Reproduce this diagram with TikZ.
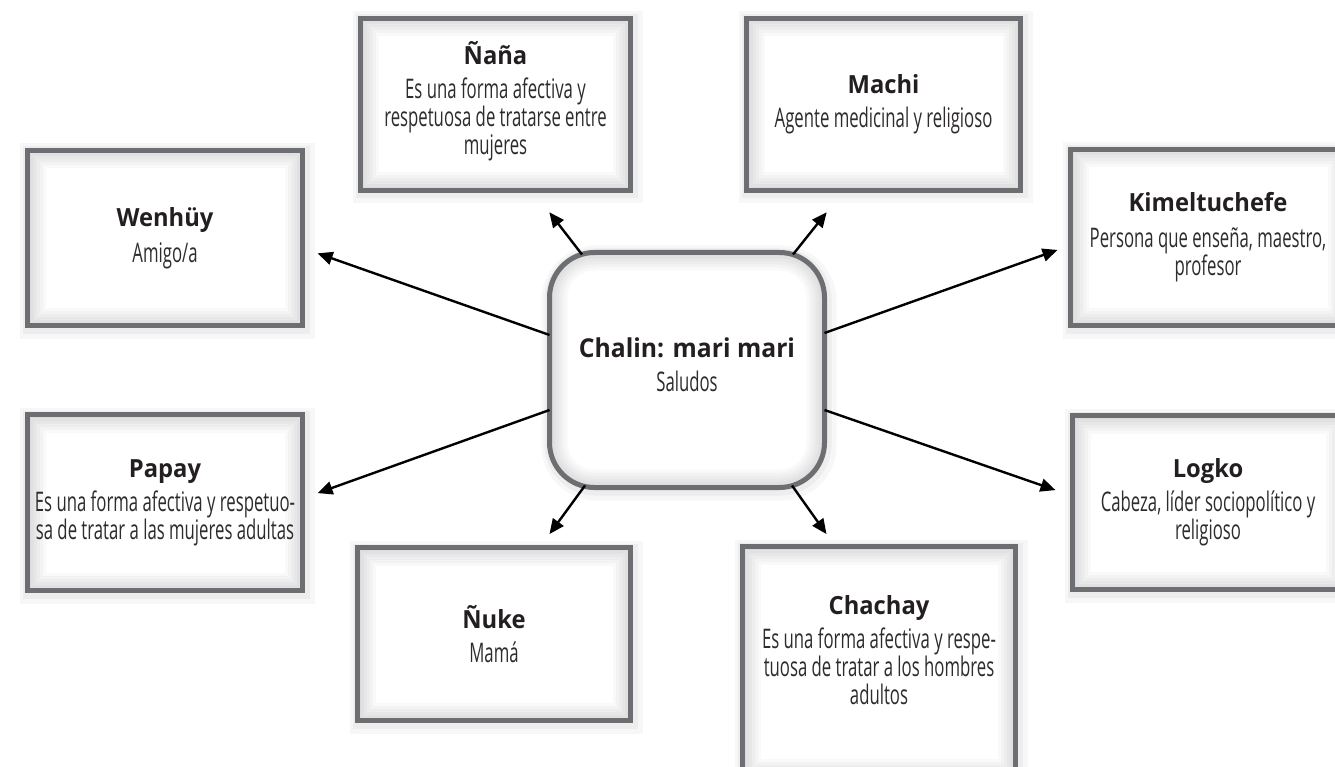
\documentclass[tikz,border=0pt]{standalone}
\usepackage{fontspec}
\setmainfont{Open Sans}
\newfontfamily\bodyf{Open Sans}[FakeStretch=0.62]
\newfontfamily\headf{Open Sans}[FakeStretch=0.95]
\usetikzlibrary{arrows.meta,calc}

\definecolor{rim}{HTML}{6D6E71}
\definecolor{ink}{HTML}{231F20}
\definecolor{softink}{HTML}{2E2B2C}

\newcommand{\ttl}[1]{{\headf\bfseries\fontsize{25}{28}\selectfont\color{ink}#1}}
% trailing empty line used to lift a text block inside its box
\newcommand{\lift}[1]{\\[#1]\mbox{}}

\tikzset{
  glow/.style={
    path picture={
      \foreach \w in {36,30,24,18,12,6}
        \draw[black, draw opacity=0.022, line width=\w pt, rounded corners=#1]
          (path picture bounding box.south west) rectangle (path picture bounding box.north east);
    }},
  card/.style={
    draw=rim, line width=5pt, fill=white, inner sep=0pt, outer sep=0pt,
    align=center, text=softink,
    font=\bodyf\fontsize{27}{28}\selectfont,
    preaction={draw=black, draw opacity=0.03, line width=20pt, transform canvas={shift={(2pt,-3pt)}}},
    preaction={draw=black, draw opacity=0.04, line width=12pt, transform canvas={shift={(1pt,-2pt)}}},
    glow=0pt},
  hubcard/.style={card, rounded corners=45pt, glow=45pt},
  link/.style={-{Triangle[length=15pt,width=13pt]}, line width=2.4pt, black}
}

\begin{document}
\begin{tikzpicture}[x=1pt,y=-1pt]
\useasboundingbox (0,0) rectangle (1335,767);
\clip (0,0) rectangle (1335,767);

% central greeting box
\node[hubcard, minimum width=275pt, minimum height=235pt] (hub) at (687,370)
  {{\headf\bfseries\fontsize{26}{28}\selectfont\color{ink}Chalin: mari mari}\\[6pt]Saludos\lift{-18pt}};

% surrounding term boxes
\node[card, minimum width=275pt, minimum height=175pt] (wen) at (165,238)
  {\ttl{Wenhüy}\\[8pt]Amigo/a};
\node[card, minimum width=270pt, minimum height=172pt] (nana) at (495.5,104.5)
  {\ttl{Ñaña}\\[6pt]Es una forma afectiva y\\respetuosa de tratarse entre\\mujeres\lift{-14pt}};
\node[card, minimum width=274pt, minimum height=172pt] (machi) at (883.5,104.5)
  {\ttl{Machi}\\[6pt]Agente medicinal y religioso};
\node[card, minimum width=275pt, minimum height=176pt] (kim) at (1208,237.5)
  {\ttl{Kimeltuchefe}\\[8pt]Persona que enseña, maestro,\\profesor};
\node[card, minimum width=275pt, minimum height=176pt] (papay) at (165,502.5)
  {\ttl{Papay}\\[6pt]Es una forma afectiva y respetuo-\\sa de tratar a las mujeres adultas};
\node[card, minimum width=273pt, minimum height=173pt] (nuke) at (494,634)
  {\ttl{Ñuke}\\[6pt]Mamá};
\node[card, minimum width=273pt, minimum height=230pt] (chachay) at (879,661.5)
  {\ttl{Chachay}\\[6pt]Es una forma afectiva y respe-\\tuosa de tratar a los hombres\\adultos\lift{-5pt}};
\node[card, minimum width=271pt, minimum height=174pt] (logko) at (1208,502.5)
  {\ttl{Logko}\\[6pt]Cabeza, líder sociopolítico y\\religioso};

% connectors from the greeting to each term
\draw[link, shorten >=16pt]   ($(hub.west)+(0,-35)$)   -- ($(wen.east)+(0,10)$);
\draw[link, shorten >=16pt]   ($(hub.west)+(0,40)$)    -- ($(papay.east)+(0,-4)$);
\draw[link, shorten >=27.5pt] ($(hub.north)+(-105,2)$) -- ($(nana.south)+(37,0)$);
\draw[link, shorten >=27.8pt] ($(hub.north)+(106,2)$)  -- ($(machi.south)+(-39.5,0)$);
\draw[link, shorten >=16.6pt] ($(hub.south)+(-102,-2)$) -- ($(nuke.north)+(45.7,0)$);
\draw[link, shorten >=15.2pt] ($(hub.south)+(105,-2)$) -- ($(chachay.north)+(-43.7,0)$);
\draw[link, shorten >=13.8pt] ($(hub.east)+(0,-37)$)   -- ($(kim.west)+(0,7.8)$);
\draw[link, shorten >=18pt]   ($(hub.east)+(0,40)$)    -- ($(logko.west)+(0,-6.5)$);
\end{tikzpicture}
\end{document}
